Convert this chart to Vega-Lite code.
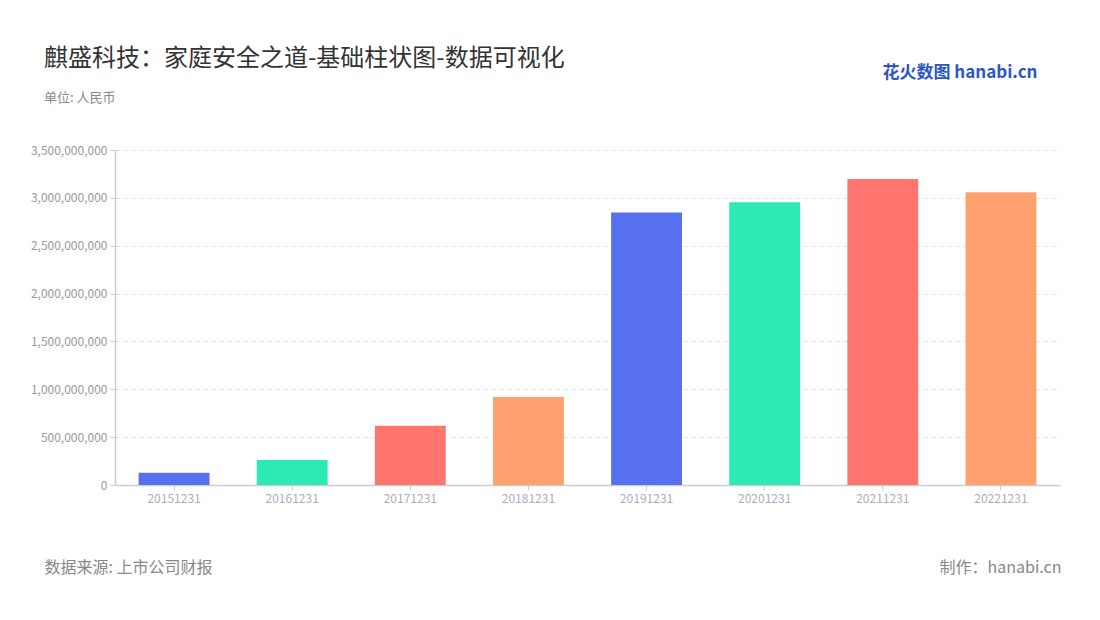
{
  "$schema": "https://vega.github.io/schema/vega-lite/v6.json",
  "width": 945,
  "height": 335,
  "autosize": {"type": "none"},
  "padding": {"left": 115, "top": 150, "right": 40, "bottom": 135},
  "background": "white",
  "config": {
    "font": "Noto Sans CJK SC",
    "view": {"stroke": null}
  },
  "title": {
    "text": "麒盛科技：家庭安全之道-基础柱状图-数据可视化",
    "subtitle": "单位: 人民币",
    "anchor": "start",
    "frame": "group",
    "dx": -71,
    "offset": -42,
    "fontSize": 24,
    "fontWeight": "normal",
    "color": "#333333",
    "subtitleFontSize": 13,
    "subtitleColor": "#888888",
    "subtitlePadding": 21
  },
  "data": {
    "values": [
      {"date": "20151231", "value": 128000000},
      {"date": "20161231", "value": 261000000},
      {"date": "20171231", "value": 620000000},
      {"date": "20181231", "value": 919000000},
      {"date": "20191231", "value": 2847000000},
      {"date": "20201231", "value": 2954000000},
      {"date": "20211231", "value": 3198000000},
      {"date": "20221231", "value": 3058000000}
    ]
  },
  "encoding": {
    "y": {
      "field": "value",
      "type": "quantitative",
      "scale": {"domain": [0, 3500000000], "nice": false},
      "axis": {
        "values": [0, 500000000, 1000000000, 1500000000, 2000000000, 2500000000, 3000000000, 3500000000],
        "format": ",d",
        "labelFontSize": 12,
        "labelColor": "#999999",
        "labelPadding": 3,
        "tickSize": 5,
        "tickColor": "#cccccc",
        "domainColor": "#cccccc",
        "domainWidth": 1.5,
        "gridColor": "#e0e0e0",
        "gridDash": [4, 4],
        "title": "数据来源: 上市公司财报",
        "titleAngle": 0,
        "titleX": -71,
        "titleY": 417,
        "titleAlign": "left",
        "titleBaseline": "middle",
        "titleFontSize": 16,
        "titleFontWeight": "normal",
        "titleColor": "#888888"
      }
    },
    "color": {
      "field": "date",
      "type": "nominal",
      "sort": null,
      "scale": {"range": ["#5770F0", "#2DE9B4", "#FF7570", "#FFA270", "#5770F0", "#2DE9B4", "#FF7570", "#FFA270"]},
      "legend": null
    }
  },
  "layer": [
    {
      "mark": {"type": "bar"},
      "encoding": {
        "x": {
          "field": "date",
          "type": "nominal",
          "sort": null,
          "scale": {"paddingInner": 0.4, "paddingOuter": 0.2},
          "axis": {
            "labelAngle": 0,
            "labelFontSize": 12,
            "labelColor": "#a9aebf",
            "labelPadding": 3,
            "tickSize": 5,
            "tickColor": "#cccccc",
            "domainColor": "#cccccc",
            "domainWidth": 1.5,
            "grid": false,
            "title": "制作：hanabi.cn",
            "titleX": 946,
            "titleY": 82,
            "titleAlign": "right",
            "titleBaseline": "middle",
            "titleFontSize": 16,
            "titleFontWeight": "normal",
            "titleColor": "#888888"
          }
        }
      }
    },
    {
      "mark": {"type": "bar", "opacity": 0},
      "encoding": {
        "x": {
          "field": "date",
          "type": "nominal",
          "sort": null,
          "axis": {
            "orient": "top",
            "labels": false,
            "ticks": false,
            "domain": false,
            "grid": false,
            "title": "花火数图 hanabi.cn",
            "titleX": 922,
            "titleY": -78,
            "titleAlign": "right",
            "titleBaseline": "middle",
            "titleFontSize": 17,
            "titleFontWeight": "bold",
            "titleColor": "#2a56c6"
          }
        }
      }
    }
  ],
  "resolve": {"axis": {"x": "independent"}}
}
